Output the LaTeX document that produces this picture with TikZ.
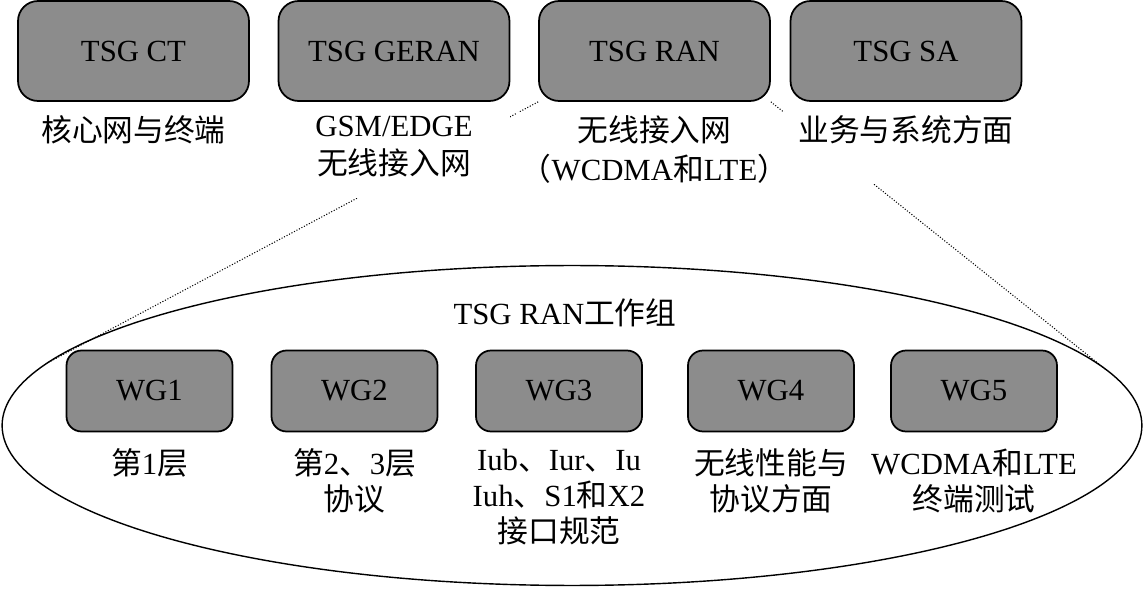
\documentclass[tikz,border=0pt]{standalone}
\usepackage{fontspec}
\setmainfont{Liberation Serif}
\newfontfamily\cjk{Noto Sans CJK SC}
\usetikzlibrary{positioning,shapes.geometric,backgrounds,calc}
\newcommand\zh[1]{{\cjk #1}}
\definecolor{boxgray}{gray}{0.55}
\tikzset{
  tsgbox/.style={
    shape = rectangle,
    rounded corners = 0.4cm,
    draw,
    fill = boxgray,
    line width = 1pt,
    minimum width = 4.62cm,
    minimum height = 2.0cm,
    inner sep = 0pt
  },
}
\tikzset{
  wgbox/.style={
    shape = rectangle,
    rounded corners = 0.3cm,
    draw,
    fill = boxgray,
    line width = 1pt,
    minimum width = 3.32cm,
    minimum height = 1.62cm,
    inner sep = 0pt
  },
}
\tikzset{
  every picture/.style = {
    font=\fontsize{17.5}{20.5}\selectfont
  },
  tsglbl/.style={
    fill = white,
    align = center,
    inner sep = 2pt,
    minimum width = 4.66cm,
    font = \fontsize{17.5}{22}\selectfont
  },
  wglbl/.style={
    align = center,
    inner sep = 2pt
  },
  relay/.style={
    densely dotted,
    line width = 0.6pt
  }
}

\begin{document}
\begin{tikzpicture}[x=0.02cm, y=-0.02cm]
        \useasboundingbox (0,0) rectangle (1144,591);

        \node[tsgbox] (ct) at (133.5,51) {TSG CT};
        \node[tsgbox] (geran) at (394,51) {TSG GERAN};
        \node[tsgbox] (ran) at (654.5,51) {TSG RAN};
        \node[tsgbox] (sa) at (906,51) {TSG SA};

        \node[tsglbl, below=0.2cm of ct] (ctlbl) {\zh{核心网与终端}};
        \node[tsglbl, below=0.2cm of geran, text depth=0.4cm] (geranlbl) {GSM/EDGE\\\zh{无线接入网}};
        \node[tsglbl, below=0.2cm of ran] (ranlbl) {\zh{无线接入网}\\\zh{（}WCDMA\zh{和}LTE\zh{）}};
        \node[tsglbl, below=0.2cm of sa, text depth=0.78cm] (salbl) {\zh{业务与系统方面}};

        \node[draw, ellipse, line width=0.8pt, inner sep=0pt,
              minimum width=22.8cm, minimum height=6.4cm] (wgs) at (572,425.5) {};
        \node[] (wgstitle) at (565,313) {TSG RAN\zh{工作组}};

        \node[wgbox] (wg1) at (149.5,391) {WG1};
        \node[wgbox] (wg2) at (354.5,391) {WG2};
        \node[wgbox] (wg3) at (559,391) {WG3};
        \node[wgbox] (wg4) at (771,391) {WG4};
        \node[wgbox] (wg5) at (974,391) {WG5};

        \node[wglbl, below=0.25cm of wg1] (wg1lbl) {\zh{第}1\zh{层}};
        \node[wglbl, below=0.25cm of wg2] (wg2lbl) {\zh{第}2\zh{、}3\zh{层}\\\zh{协议}};
        \node[wglbl, below=0.25cm of wg3] (wg3lbl) {Iub\zh{、}Iur\zh{、}Iu\\Iuh\zh{、}S1\zh{和}X2\\\zh{接口规范}};
        \node[wglbl, below=0.25cm of wg4] (wg4lbl) {\zh{无线性能与}\\\zh{协议方面}};
        \node[wglbl, below=0.25cm of wg5] (wg5lbl) {WCDMA\zh{和}LTE\\\zh{终端测试}};

        % zoom lines from TSG RAN to its working groups
        \coordinate (tanl) at ($(wgs.center)+(156.8:11.4cm and 3.2cm)$);
        \coordinate (tanr) at ($(wgs.center)+(20.7:11.4cm and 3.2cm)$);
        \begin{scope}[on background layer]
            \draw[relay] (ran.south west) -- (tanl);
            \draw[relay] (ran.south east) -- (tanr);
        \end{scope}
\end{tikzpicture}
\end{document}
